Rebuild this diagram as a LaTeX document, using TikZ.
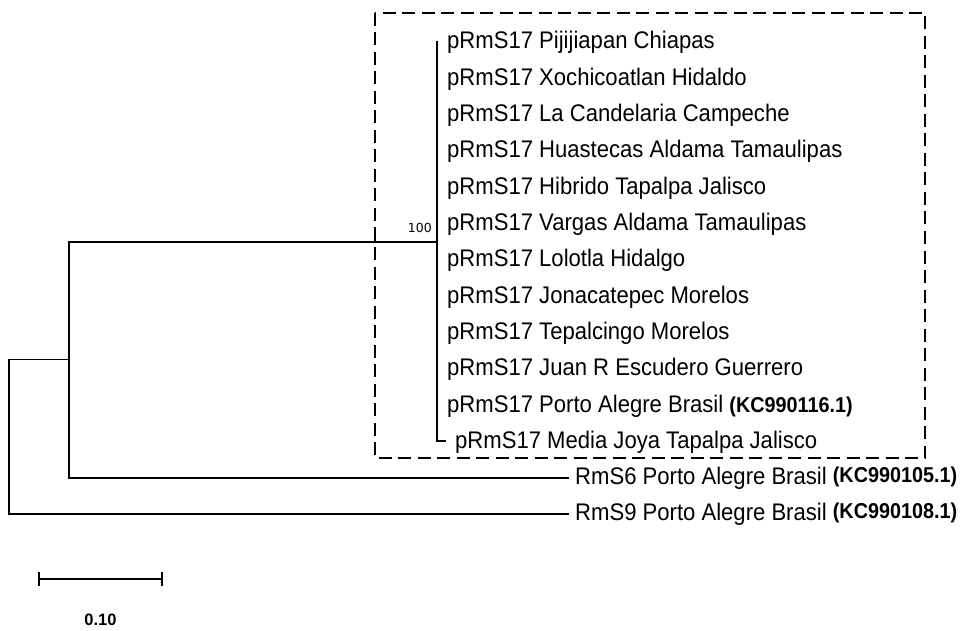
\documentclass[tikz,border=0pt]{standalone}
\usepackage{fontspec}
\setmainfont{Liberation Sans}
\newfontfamily\leaffont[FakeStretch=0.92]{Liberation Sans}
\newfontfamily\bootfont{DejaVu Sans}
\usepackage{tikz}
\usetikzlibrary{arrows.meta,positioning,calc}
\newcommand{\accno}[1]{{\bfseries\fontsize{21.5}{23}\selectfont #1}}
\tikzset{
  leaf/.style={anchor=west, inner sep=0pt, text height=17pt, text depth=3pt,
    font=\leaffont\fontsize{24}{26}\selectfont},
  branch/.style={line width=2pt, line cap=rect},
  thinbranch/.style={line width=1.3pt, line cap=rect},
  cladebox/.style={line width=2.4pt, dash pattern=on 13pt off 6.5pt},
  bootlabel/.style={inner sep=0pt, font=\bootfont\fontsize{12.5}{14}\selectfont},
  scalebar/.style={line width=2pt, {Bar[width=14pt,line width=2pt]}-{Bar[width=14pt,line width=2pt]}},
  scalelabel/.style={inner sep=0pt, font=\bfseries\fontsize{16.5}{18}\selectfont}
}
\begin{document}
\begin{tikzpicture}[x=1pt, y=-1pt]
\useasboundingbox (0,0) rectangle (961,631);

% internal nodes of the tree
\coordinate (root) at (9,359.6);
\coordinate (n2) at (69,359.6);
\coordinate (n3) at (437,241.6);

% pRmS17 clade
\node[leaf] (p1) at (447,42) {pRmS17 Pijijiapan Chiapas};
\node[leaf] (p2) at (447,78.3) {pRmS17 Xochicoatlan Hidaldo};
\node[leaf] (p3) at (447,114.6) {pRmS17 La Candelaria Campeche};
\node[leaf] (p4) at (447,150.9) {pRmS17 Huastecas Aldama Tamaulipas};
\node[leaf] (p5) at (447,187.2) {pRmS17 Hibrido Tapalpa Jalisco};
\node[leaf] (p6) at (447,223.5) {pRmS17 Vargas Aldama Tamaulipas};
\node[leaf] (p7) at (447,259.8) {pRmS17 Lolotla Hidalgo};
\node[leaf] (p8) at (447,296.1) {pRmS17 Jonacatepec Morelos};
\node[leaf] (p9) at (447,332.4) {pRmS17 Tepalcingo Morelos};
\node[leaf] (p10) at (447,368.7) {pRmS17 Juan R Escudero Guerrero};
\node[leaf] (p11) at (447,405) {pRmS17 Porto Alegre Brasil \accno{(KC990116.1)}};
\node[leaf] (p12) at (455,441.3) {pRmS17 Media Joya Tapalpa Jalisco};

% outgroups
\node[leaf] (s6) at (575,477.6) {RmS6 Porto Alegre Brasil \raisebox{2pt}{\accno{(KC990105.1)}}};
\node[leaf] (s9) at (575,513.9) {RmS9 Porto Alegre Brasil \raisebox{2pt}{\accno{(KC990108.1)}}};

\node[bootlabel, above left=9pt and 5pt of n3] (boot) {100};

% branches
\draw[branch] (n3 |- p1.west) -- (n3 |- p12.west) -- ([xshift=-10pt]p12.west);
\draw[branch] (n2 |- n3) -- (n3);
\draw[branch] (n2 |- n3) -- (n2 |- s6.west) -- ([xshift=-7pt]s6.west);
\draw[thinbranch] (root) -- (n2);
\draw[thinbranch] (root) -- (root |- s9.west) -- ([xshift=-7pt]s9.west);

\draw[cladebox] (375,13) rectangle (925,458);

% scale
\coordinate (sbl) at (38,579);
\coordinate (sbr) at (163,579);
\draw[scalebar] (sbl) -- (sbr);
\node[scalelabel] (sblabel) at ($(sbl)!0.5!(sbr)+(0,41)$) {0.10};
\end{tikzpicture}
\end{document}
